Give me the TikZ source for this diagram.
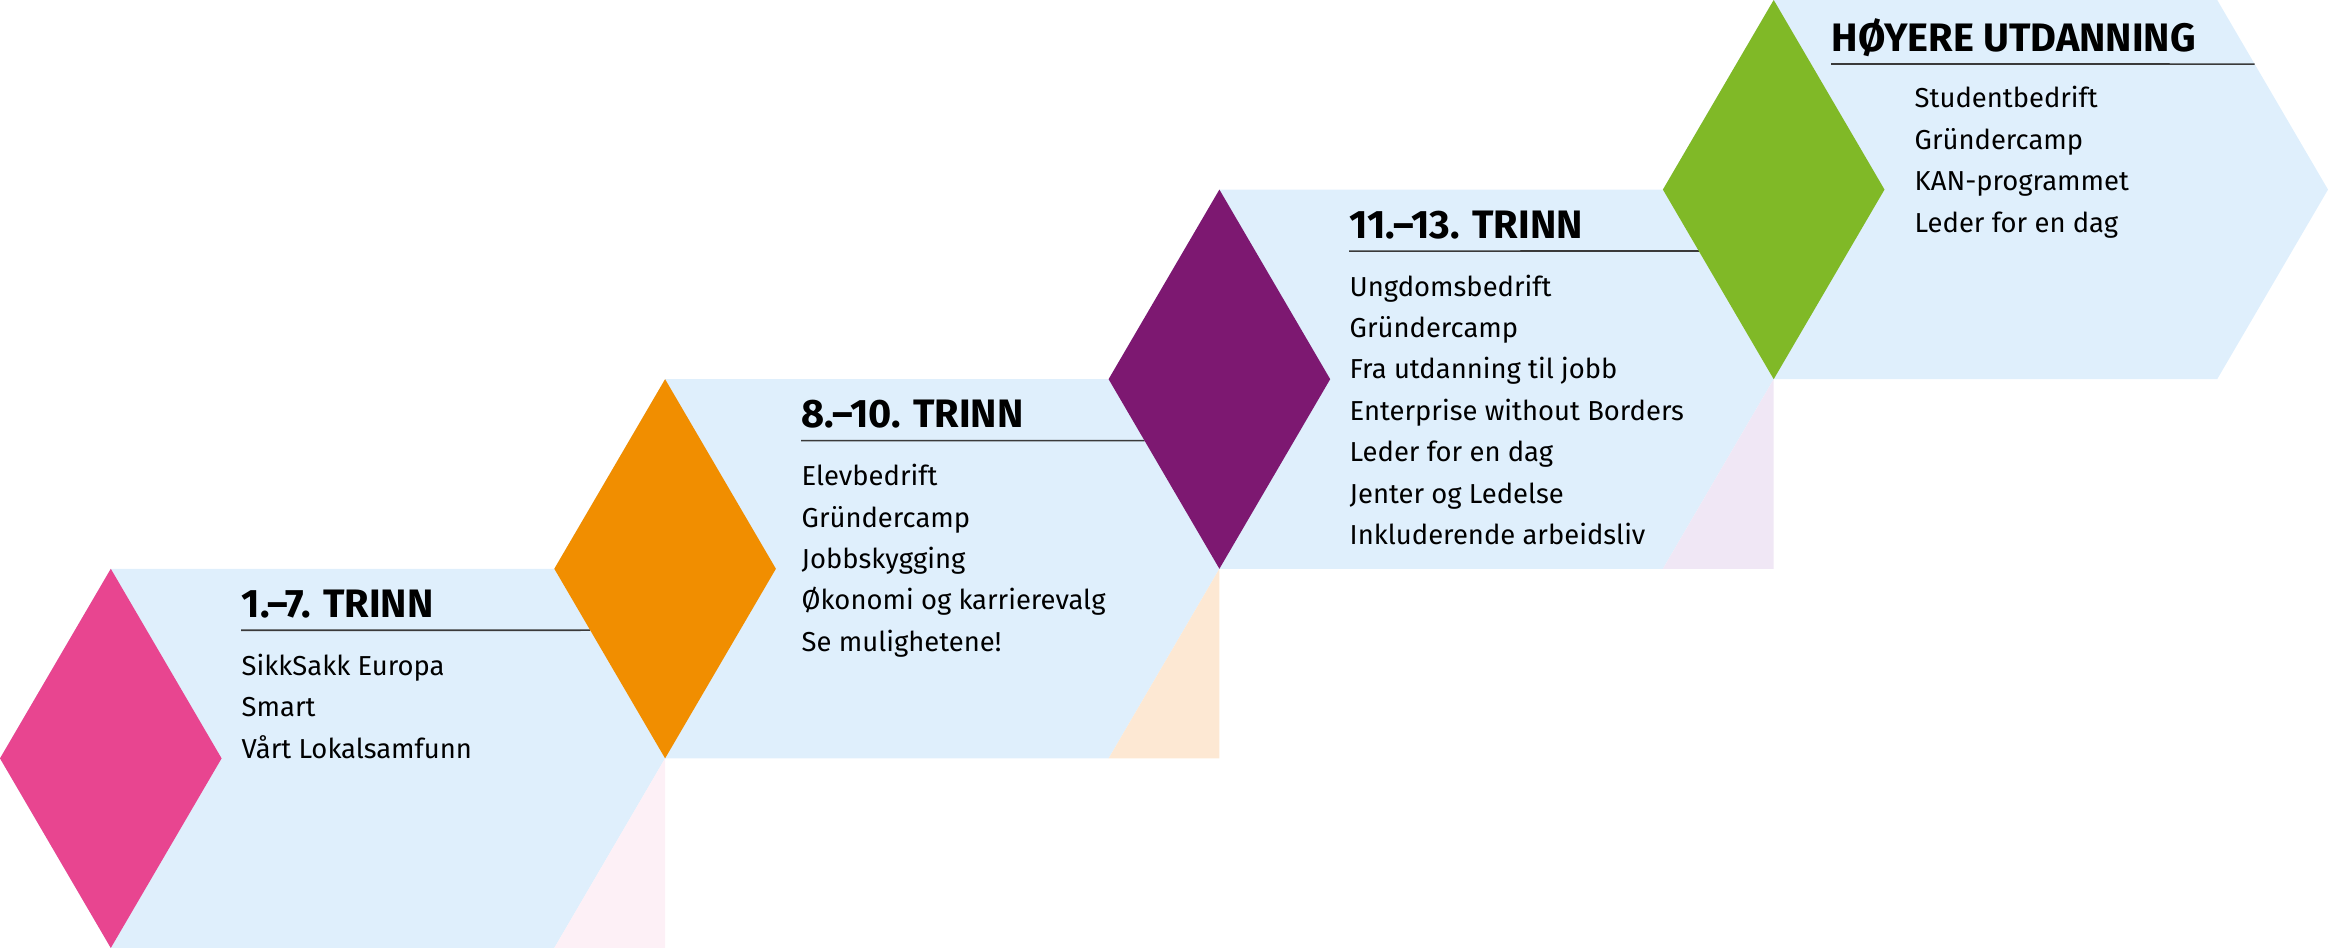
\documentclass[tikz,border=0pt]{standalone}
\usepackage{fontspec}
\setmainfont{Fira Sans}
\usetikzlibrary{calc}

\definecolor{bandblue}{HTML}{DFEFFC}
\definecolor{rosa}{HTML}{E84590}
\definecolor{oransje}{HTML}{F18E00}
\definecolor{lilla}{HTML}{7D1871}
\definecolor{gronn}{HTML}{80B927}
\definecolor{lysrosa}{HTML}{FDF0F6}
\definecolor{lysoransje}{HTML}{FDE8D3}
\definecolor{lyslilla}{HTML}{F0E7F5}
\definecolor{strekgra}{HTML}{3A3A3A}

\tikzset{
    band/.style={fill=bandblue},
    heading/.style={anchor=base west, inner sep=0pt, font=\fontsize{11.3}{13}\selectfont\bfseries},
    item/.style={anchor=base west, inner sep=0pt, font=\fontsize{7.8}{9}\selectfont},
    headrule/.style={draw=strekgra, line width=0.45pt}
}

\begin{document}
\begin{tikzpicture}
                \useasboundingbox (0,0) rectangle (23.28,9.48);

                % hexagon corners, one trinn per row
                \coordinate (h0tr) at (5.543,3.792);   \coordinate (h0r) at (6.651,1.896);
                \coordinate (h1tr) at (11.086,5.688);  \coordinate (h1r) at (12.194,3.792);
                \coordinate (h2tr) at (16.629,7.584);  \coordinate (h2r) at (17.737,5.688);
                \coordinate (h3tr) at (22.172,9.48);   \coordinate (h3r) at (23.28,7.584);

                \fill[band] (0,1.896) -- (1.108,3.792) -- (h0tr) -- (h0r) -- (5.543,0) -- (1.108,0) -- cycle;
                \fill[band] (5.543,3.792) -- (6.651,5.688) -- (h1tr) -- (h1r) -- (11.086,1.896) -- (6.651,1.896) -- cycle;
                \fill[band] (11.086,5.688) -- (12.194,7.584) -- (h2tr) -- (h2r) -- (16.629,3.792) -- (12.194,3.792) -- cycle;
                \fill[band] (16.629,7.584) -- (17.737,9.48) -- (h3tr) -- (h3r) -- (22.172,5.688) -- (17.737,5.688) -- cycle;

                % pale corners
                \fill[lysrosa]    (5.543,0)      -- (h0r) -- (6.651,0)     -- cycle;
                \fill[lysoransje] (11.086,1.896) -- (h1r) -- (12.194,1.896) -- cycle;
                \fill[lyslilla]   (16.629,3.792) -- (h2r) -- (17.737,3.792) -- cycle;

                % rules under headings
                \draw[headrule] (2.41,3.177)  -- ($(h0tr)!0.324!(h0r)$);
                \draw[headrule] (8.01,5.073)  -- ($(h1tr)!0.324!(h1r)$);
                \draw[headrule] (13.49,6.969) -- ($(h2tr)!0.324!(h2r)$);
                \draw[headrule] (18.31,8.84)  -- ($(h3tr)!0.338!(h3r)$);

                % diamonds
                \fill[rosa]    (0,1.896)      -- (1.108,3.792)  -- (2.216,1.896)  -- (1.108,0)      -- cycle;
                \fill[oransje] (5.543,3.792)  -- (6.651,5.688)  -- (7.759,3.792)  -- (6.651,1.896)  -- cycle;
                \fill[lilla]   (11.086,5.688) -- (12.194,7.584) -- (13.302,5.688) -- (12.194,3.792) -- cycle;
                \fill[gronn]   (16.629,7.584) -- (17.737,9.48)  -- (18.845,7.584) -- (17.737,5.688) -- cycle;

                % 1.-7. trinn
                \node[heading] (t1)   at (2.41,3.304) {1.–7. TRINN};
                \node[item]    (t1a)  at (2.41,2.727) {SikkSakk Europa};
                \node[item]    (t1b)  at (2.41,2.313) {Smart};
                \node[item]    (t1c)  at (2.41,1.899) {Vårt Lokalsamfunn};

                % 8.-10. trinn
                \node[heading] (t2)   at (8.01,5.200) {8.–10. TRINN};
                \node[item]    (t2a)  at (8.01,4.623) {Elevbedrift};
                \node[item]    (t2b)  at (8.01,4.209) {Gründercamp};
                \node[item]    (t2c)  at (8.01,3.795) {Jobbskygging};
                \node[item]    (t2d)  at (8.01,3.381) {Økonomi og karrierevalg};
                \node[item]    (t2e)  at (8.01,2.967) {Se mulighetene!};

                % 11.-13. trinn
                \node[heading] (t3)   at (13.49,7.096) {11.–13. TRINN};
                \node[item]    (t3a)  at (13.49,6.519) {Ungdomsbedrift};
                \node[item]    (t3b)  at (13.49,6.105) {Gründercamp};
                \node[item]    (t3c)  at (13.49,5.691) {Fra utdanning til jobb};
                \node[item]    (t3d)  at (13.49,5.277) {Enterprise without Borders};
                \node[item]    (t3e)  at (13.49,4.863) {Leder for en dag};
                \node[item]    (t3f)  at (13.49,4.449) {Jenter og Ledelse};
                \node[item]    (t3g)  at (13.49,4.035) {Inkluderende arbeidsliv};

                % hoyere utdanning
                \node[heading] (t4)   at (18.31,8.963) {HØYERE UTDANNING};
                \node[item]    (t4a)  at (19.14,8.400) {Studentbedrift};
                \node[item]    (t4b)  at (19.14,7.986) {Gründercamp};
                \node[item]    (t4c)  at (19.14,7.572) {KAN-programmet};
                \node[item]    (t4d)  at (19.14,7.158) {Leder for en dag};
            \end{tikzpicture}
\end{document}
